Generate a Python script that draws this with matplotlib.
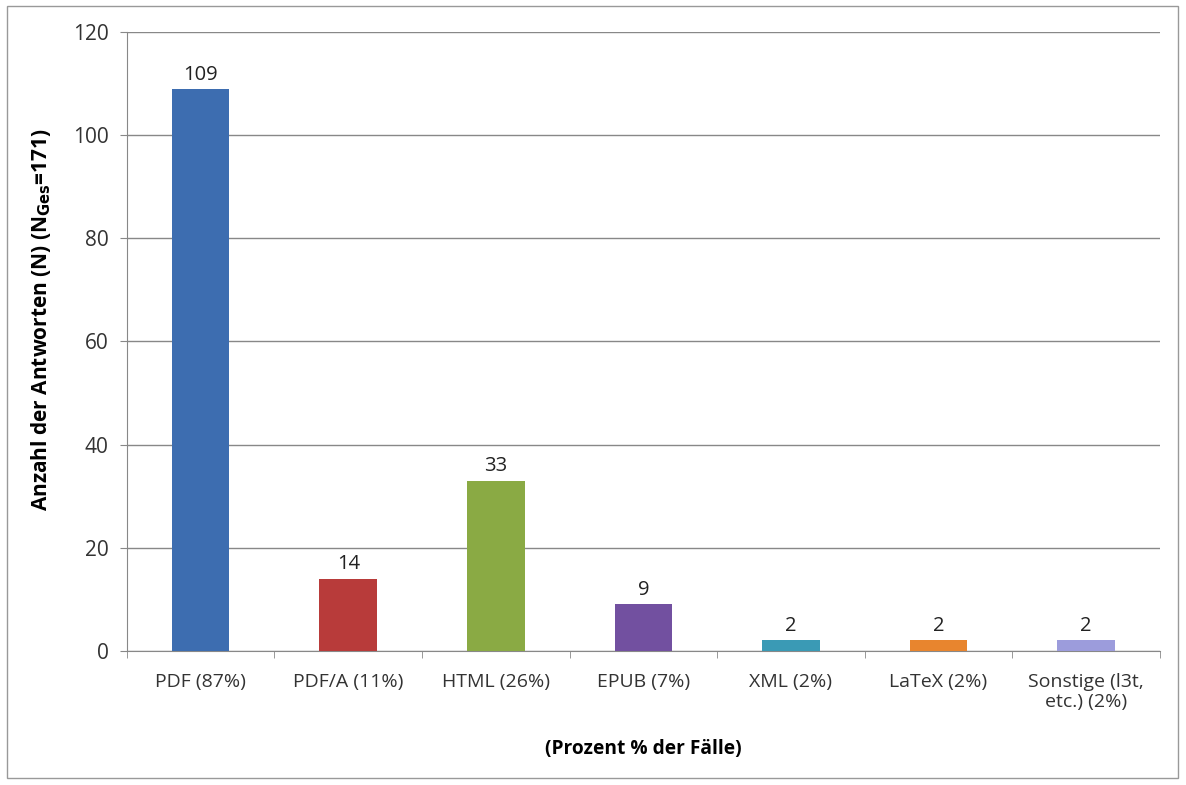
import matplotlib.pyplot as plt
from matplotlib.patches import Rectangle

categories = ['PDF (87%)', 'PDF/A (11%)', 'HTML (26%)', 'EPUB (7%)',
              'XML (2%)', 'LaTeX (2%)', 'Sonstige (l3t,\netc.) (2%)']
counts = [109, 14, 33, 9, 2, 2, 2]
colors = ['#3D6DB0', '#B83B3A', '#8AAA44', '#7250A0', '#3A9AB5', '#E8852E', '#9C9CDC']

plt.rcParams['font.family'] = ['Open Sans', 'DejaVu Sans']

fig = plt.figure(figsize=(11.86, 7.85), dpi=100)
ax = fig.add_axes([0.107, 0.171, 0.871, 0.788])

x = range(len(categories))
ax.bar(x, counts, width=0.39, color=colors, zorder=3)
for xi, v in zip(x, counts):
    ax.annotate(str(v), (xi, v), xytext=(0, 3), textcoords='offset points',
                ha='center', va='bottom', fontsize=14.5, color='#222222')

ax.set_ylim(0, 120)
ax.set_yticks(range(0, 121, 20))
ax.set_xlim(-0.5, len(categories) - 0.5)
ax.set_xticks(x)
ax.set_xticklabels(categories, fontsize=14, color='#333333', linespacing=1.15)
ax.set_xticks([i - 0.5 for i in range(len(categories) + 1)], minor=True)
ax.tick_params(axis='x', which='major', length=0, pad=16)
ax.tick_params(axis='x', which='minor', length=5, color='#888888')
ax.tick_params(axis='y', length=5, color='#888888', labelsize=15, labelcolor='#333333', pad=8)
ax.grid(axis='y', color='#888888', linewidth=1, zorder=0)

for s in ['top', 'right']:
    ax.spines[s].set_visible(False)
for s in ['left', 'bottom']:
    ax.spines[s].set_color('#888888')

ax.set_ylabel(r'Anzahl der Antworten (N) (N$_{\mathbf{Ges}}$=171)',
              fontsize=15, fontweight='bold')
ax.yaxis.set_label_coords(-0.072, 0.535)
ax.set_xlabel('(Prozent % der Fälle)', fontsize=13.8, fontweight='bold', labelpad=20)

fig.patches.append(Rectangle((7 / 1186, 7 / 785), 1 - 15 / 1186, 1 - 13 / 785,
                             transform=fig.transFigure,
                             fill=False, edgecolor='#999999', linewidth=1))

fig.savefig('out.png', dpi=100)
